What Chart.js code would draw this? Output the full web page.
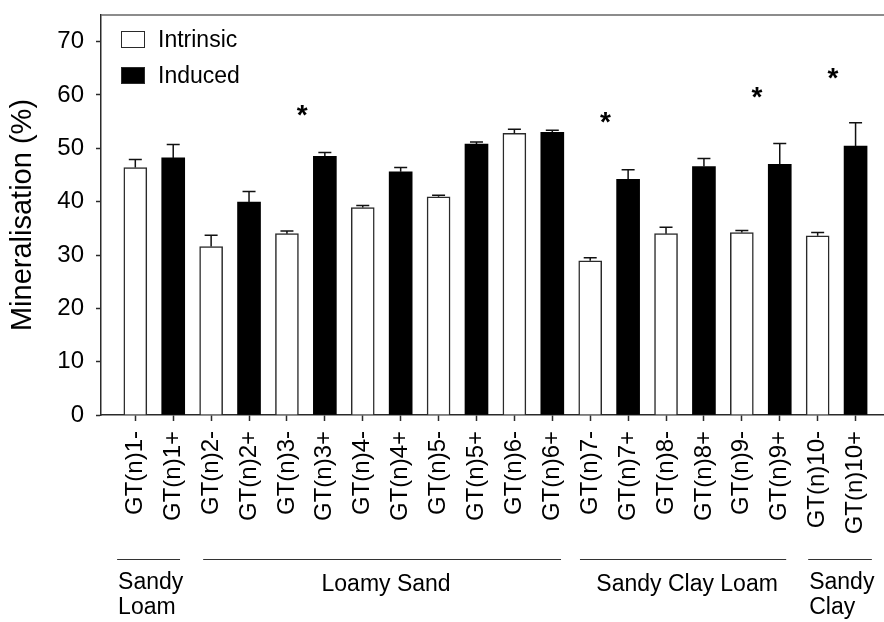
<!DOCTYPE html>
<html>
<head>
<meta charset="utf-8">
<title>Mineralisation</title>
<script src="https://cdn.jsdelivr.net/npm/chart.js@4/dist/chart.umd.min.js"></script>
<style>
  body { margin: 0; background: #fff; }
  canvas { display: block; }
</style>
</head>
<body>
<canvas id="chart" width="884" height="622"></canvas>
<script>
const categories = [
  'GT(n)1-', 'GT(n)1+', 'GT(n)2-', 'GT(n)2+', 'GT(n)3-', 'GT(n)3+', 'GT(n)4-', 'GT(n)4+',
  'GT(n)5-', 'GT(n)5+', 'GT(n)6-', 'GT(n)6+', 'GT(n)7-', 'GT(n)7+', 'GT(n)8-', 'GT(n)8+',
  'GT(n)9-', 'GT(n)9+', 'GT(n)10-', 'GT(n)10+'
];
const intrinsic = [46.4, 31.6, 34.0, 38.9, 40.9, 52.8, 28.9, 34.0, 34.2, 33.6];
const intrinsicErr = [1.5, 2.1, 0.5, 0.4, 0.3, 0.8, 0.6, 1.2, 0.4, 0.6];
const induced = [48.2, 39.9, 48.5, 45.6, 50.8, 53.0, 44.2, 46.6, 47.0, 50.4];
const inducedErr = [2.5, 2.0, 0.7, 0.8, 0.4, 0.4, 1.8, 1.5, 3.9, 4.4];
const starPairs = [2, 6, 8, 9];
const starValues = [57.1, 55.7, 60.5, 64.1];
const soilGroups = [['Sandy', 'Loam'], ['Loamy Sand'], ['Sandy Clay Loam'], ['Sandy', 'Clay']];
const yTicks = [0, 10, 20, 30, 40, 50, 60, 70];

const FONT = '"Liberation Sans", Arial, Helvetica, sans-serif';
const AXIS = '#2a2a2a';

// line spans under the labels, in category units
const groupSpans = [[-0.48, 1.18], [1.79, 11.23], [11.73, 17.17], [17.75, 19.43]];

const errorBars = {
  id: 'errorBars',
  afterDatasetsDraw(chart) {
    const { ctx, scales: { y } } = chart;
    const errs = [intrinsicErr, inducedErr];
    ctx.save();
    ctx.strokeStyle = '#111';
    ctx.lineWidth = 1.5;
    chart.data.datasets.forEach((ds, di) => {
      chart.getDatasetMeta(di).data.forEach((bar, i) => {
        const top = y.getPixelForValue(ds.data[i].y + errs[di][i]);
        ctx.beginPath();
        ctx.moveTo(bar.x, bar.y);
        ctx.lineTo(bar.x, top);
        ctx.moveTo(bar.x - 6.5, top);
        ctx.lineTo(bar.x + 6.5, top);
        ctx.stroke();
      });
    });

    // significance stars
    ctx.fillStyle = '#000';
    ctx.font = 'bold 28px ' + FONT;
    ctx.textAlign = 'center';
    ctx.textBaseline = 'alphabetic';
    const m = ctx.measureText('*');
    const mid = (m.actualBoundingBoxAscent - m.actualBoundingBoxDescent) / 2;
    starPairs.forEach((p, k) => {
      const sx = chart.scales.x.getPixelForValue(p * 2 + 0.4);
      const sy = y.getPixelForValue(starValues[k]);
      ctx.fillText('*', sx, sy + mid);
    });
    ctx.restore();
  },
  afterDraw(chart) {
    const { ctx, chartArea: a, scales: { x } } = chart;
    ctx.save();

    // top frame line
    ctx.strokeStyle = '#666';
    ctx.lineWidth = 1.5;
    ctx.beginPath();
    ctx.moveTo(a.left, a.top);
    ctx.lineTo(a.right, a.top);
    ctx.stroke();

    // legend
    ctx.font = '23px ' + FONT;
    ctx.textBaseline = 'middle';
    ctx.textAlign = 'left';
    chart.data.datasets.forEach((ds, i) => {
      const bx = a.left + 20, by = a.top + 16 + i * 36;
      ctx.fillStyle = ds.backgroundColor;
      ctx.fillRect(bx, by, 24, 17);
      ctx.strokeStyle = AXIS;
      ctx.lineWidth = 1;
      ctx.strokeRect(bx + 0.5, by + 0.5, 23, 16);
      ctx.fillStyle = '#000';
      ctx.fillText(ds.label, bx + 37, by + 10);
    });

    // soil texture groups
    const ly = a.bottom + 144;
    ctx.strokeStyle = '#333';
    ctx.lineWidth = 1;
    soilGroups.forEach((g, i) => {
      const x0 = x.getPixelForValue(groupSpans[i][0]);
      const x1 = x.getPixelForValue(groupSpans[i][1]);
      ctx.beginPath();
      ctx.moveTo(x0, ly + 0.5);
      ctx.lineTo(x1, ly + 0.5);
      ctx.stroke();
      ctx.fillStyle = '#000';
      if (g.length > 1) {
        ctx.textAlign = 'left';
        g.forEach((t, j) => ctx.fillText(t, x0 + 1, ly + 24 + j * 25));
      } else {
        ctx.textAlign = 'center';
        ctx.fillText(g[0], (x0 + x1) / 2 + 4, ly + 26);
      }
    });
    ctx.restore();
  }
};

new Chart(document.getElementById('chart'), {
  type: 'bar',
  data: {
    datasets: [
      {
        label: 'Intrinsic',
        data: intrinsic.map((v, i) => ({ x: i * 2, y: v })),
        backgroundColor: '#fff',
        borderColor: AXIS,
        borderWidth: 1.5,
        barThickness: 23
      },
      {
        label: 'Induced',
        data: induced.map((v, i) => ({ x: i * 2 + 1, y: v })),
        backgroundColor: '#000',
        borderColor: '#000',
        borderWidth: 0,
        barThickness: 23
      }
    ]
  },
  options: {
    responsive: false,
    devicePixelRatio: 1,
    animation: false,
    grouped: false,
    layout: { padding: { top: 15, left: 0, right: 0, bottom: 0 } },
    plugins: { legend: { display: false }, tooltip: { enabled: false } },
    scales: {
      x: {
        type: 'linear',
        offset: false,
        min: -0.905,
        max: 19.75,
        afterBuildTicks: s => { s.ticks = categories.map((c, i) => ({ value: i })); },
        afterFit: s => { s.height = 207; s.paddingLeft = 0; s.paddingRight = 0; },
        ticks: {
          callback: v => categories[v],
          autoSkip: false,
          minRotation: 90,
          maxRotation: 90,
          padding: 10,
          color: '#000',
          font: { family: FONT, size: 24 }
        },
        grid: { offset: false, drawOnChartArea: false, tickLength: 6, tickWidth: 1.5, color: AXIS },
        border: { color: AXIS, width: 1.5 }
      },
      y: {
        min: 0,
        max: 75,
        afterBuildTicks: s => { s.ticks = yTicks.map(v => ({ value: v })); },
        afterFit: s => { s.width = 101; s.paddingTop = 0; s.paddingBottom = 0; },
        ticks: { padding: 12, color: '#000', font: { family: FONT, size: 24 } },
        grid: { drawOnChartArea: false, tickLength: 5, tickWidth: 1.5, color: AXIS },
        border: { color: AXIS, width: 1.5 },
        title: {
          display: true,
          text: 'Mineralisation (%)',
          color: '#000',
          font: { family: FONT, size: 29 },
          padding: { top: 6, bottom: 0 }
        }
      }
    }
  },
  plugins: [errorBars]
});
</script>
</body>
</html>
